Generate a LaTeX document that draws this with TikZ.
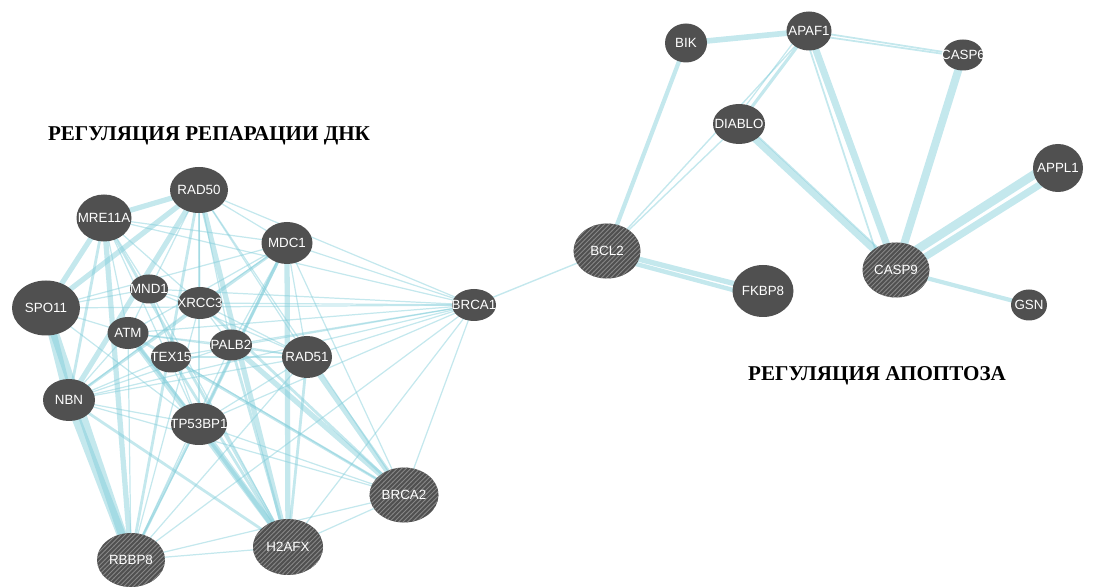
\documentclass[tikz,border=0pt]{standalone}
\usepackage{fontspec}
\setmainfont{Liberation Serif}
\newfontfamily\genefont{Liberation Sans}
\usetikzlibrary{shapes.geometric,patterns,backgrounds}

\definecolor{nodegris}{RGB}{80,80,80}
\definecolor{hachure}{RGB}{135,135,135}
\definecolor{lienbleu}{RGB}{125,203,216}

\pgfdeclarepatternformonly{hachures}{\pgfqpoint{-1pt}{-1pt}}{\pgfqpoint{4pt}{4pt}}{\pgfqpoint{2.6pt}{2.6pt}}{
  \pgfsetlinewidth{0.5pt}
  \pgfpathmoveto{\pgfqpoint{-0.1pt}{-0.1pt}}
  \pgfpathlineto{\pgfqpoint{2.7pt}{2.7pt}}
  \pgfusepath{stroke}}

\tikzset{
  gene/.style 2 args={ellipse, fill=nodegris, text=white, inner sep=0pt, outer sep=0pt,
    minimum width=#1*0.02cm, minimum height=#2*0.02cm, font=\genefont\fontsize{7.6}{8}\selectfont},
  hatch/.style={postaction={pattern=hachures, pattern color=hachure}},
  lien/.style={draw=lienbleu, draw opacity=0.45, line cap=round},
  titre/.style={font=\bfseries\fontsize{12}{14}\selectfont, text=black}
}
\newcommand{\lbl}[1]{\makebox[0pt]{#1}}

\begin{document}
\begin{tikzpicture}[x=0.02cm, y=-0.02cm]

%%%%%%%%%%%%%%%%%%%%%%
%%%	 Def epaisseurs  %%%
%%%%%%%%%%%%%%%%%%%%%%

\def \fin{0.7pt}
\def \moyen{1.6pt}
\def \epais{3pt}
\def \tresepais{5pt}

\useasboundingbox (0,0) rectangle (1099,587);

%%%%%%%%%%%%%%%%%%%%%%
%%%	  Noeuds ADN    %%%
%%%%%%%%%%%%%%%%%%%%%%

\node[gene={55}{47}] (MRE11A) at (104,218) {\lbl{MRE11A}};
\node[gene={58}{46}] (RAD50) at (199,190) {\lbl{RAD50}};
\node[gene={51}{42}] (MDC1) at (287,243) {\lbl{MDC1}};
\node[gene={68}{55}] (SPO11) at (46,308) {\lbl{SPO11}};
\node[gene={38}{29}] (MND1) at (149,289) {\lbl{MND1}};
\node[gene={44}{32}] (XRCC3) at (200,303) {\lbl{XRCC3}};
\node[gene={41}{32}] (ATM) at (128,333) {\lbl{ATM}};
\node[gene={40}{31}] (TEX15) at (171,357) {\lbl{TEX15}};
\node[gene={42}{31}] (PALB2) at (231,345) {\lbl{PALB2}};
\node[gene={50}{42}] (RAD51) at (307,357) {\lbl{RAD51}};
\node[gene={52}{42}] (NBN) at (69,400) {\lbl{NBN}};
\node[gene={56}{42}] (TP53BP1) at (199,424) {\lbl{TP53BP1}};
\node[gene={44}{32}] (BRCA1) at (474,305) {\lbl{BRCA1}};
\node[gene={69}{55}, hatch] (BRCA2) at (404,495) {\lbl{BRCA2}};
\node[gene={70}{56}, hatch] (H2AFX) at (288,547) {\lbl{H2AFX}};
\node[gene={68}{54}, hatch] (RBBP8) at (131,560) {\lbl{RBBP8}};

%%%%%%%%%%%%%%%%%%%%%%
%%%	 Noeuds apoptose %%%
%%%%%%%%%%%%%%%%%%%%%%

\node[gene={42}{39}] (BIK) at (686,43) {\lbl{BIK}};
\node[gene={45}{39}] (APAF1) at (809,31) {\lbl{APAF1}};
\node[gene={40}{31}] (CASP6) at (963,55) {\lbl{CASP6}};
\node[gene={52}{40}] (DIABLO) at (739,124) {\lbl{DIABLO}};
\node[gene={50}{48}] (APPL1) at (1058,168) {\lbl{APPL1}};
\node[gene={67}{55}, hatch] (BCL2) at (607,251) {\lbl{BCL2}};
\node[gene={61}{52}] (FKBP8) at (763,291) {\lbl{FKBP8}};
\node[gene={67}{55}, hatch] (CASP9) at (896,270) {\lbl{CASP9}};
\node[gene={36}{31}] (GSN) at (1029,305) {\lbl{GSN}};

%%%%%%%%%%%%%%%%%%%%%%
%%%	    Titres      %%%
%%%%%%%%%%%%%%%%%%%%%%

\node[titre] (titreADN) at (209,136) {РЕГУЛЯЦИЯ РЕПАРАЦИИ ДНК};
\node[titre] (titreApo) at (877,376) {РЕГУЛЯЦИЯ АПОПТОЗА};

%%%%%%%%%%%%%%%%%%%%%%
%%%	    Liens       %%%
%%%%%%%%%%%%%%%%%%%%%%

\begin{scope}[on background layer]

% liens tres epais du groupe ADN
\foreach \a/\b in {SPO11/NBN, SPO11/RBBP8, NBN/RBBP8}
  \draw[lien, line width=\tresepais] (\a.center) -- (\b.center);

% liens epais
\foreach \a/\b in {MRE11A/SPO11, MRE11A/RBBP8, MRE11A/RAD50, RAD50/NBN, RAD50/H2AFX,
    MDC1/H2AFX, TP53BP1/H2AFX, ATM/H2AFX, PALB2/BRCA2, RAD51/BRCA2, SPO11/RAD50}
  \draw[lien, line width=\epais] (\a.center) -- (\b.center);

% liens moyens
\foreach \a/\b in {MRE11A/NBN, RAD50/RBBP8, MDC1/TP53BP1, MDC1/RBBP8, ATM/TP53BP1,
    XRCC3/BRCA2, RAD51/H2AFX, ATM/BRCA2, MRE11A/H2AFX, RAD50/TP53BP1, PALB2/H2AFX,
    TEX15/H2AFX, NBN/H2AFX, MDC1/NBN}
  \draw[lien, line width=\moyen] (\a.center) -- (\b.center);

% liens fins vers BRCA1
\foreach \a in {MRE11A, RAD50, MDC1, XRCC3, ATM, PALB2, RAD51, TP53BP1, NBN, H2AFX,
    RBBP8, BRCA2, MND1, TEX15, SPO11}
  \draw[lien, line width=\fin] (\a.center) -- (BRCA1.center);

% autres liens fins
\foreach \a/\b in {MRE11A/MDC1, RAD50/MDC1, MRE11A/ATM, MRE11A/MND1, MRE11A/XRCC3,
    RAD50/XRCC3, RAD50/ATM, RAD50/PALB2, RAD50/RAD51, MDC1/ATM, MDC1/PALB2, MDC1/RAD51,
    SPO11/ATM, SPO11/MND1, MND1/RAD51, MND1/XRCC3, MND1/H2AFX, XRCC3/RAD51, XRCC3/PALB2,
    XRCC3/RBBP8, ATM/NBN, ATM/RBBP8, ATM/RAD51, ATM/PALB2, TEX15/RAD51, TEX15/BRCA2,
    PALB2/RAD51, PALB2/RBBP8, PALB2/NBN, RAD51/NBN, RAD51/RBBP8, RAD51/TP53BP1,
    NBN/TP53BP1, NBN/BRCA2, TP53BP1/RBBP8, TP53BP1/BRCA2, H2AFX/RBBP8, H2AFX/BRCA2,
    RBBP8/BRCA2, MRE11A/TP53BP1, MDC1/BRCA2, RAD50/BRCA2, SPO11/MDC1, NBN/XRCC3,
    MND1/TP53BP1, SPO11/TP53BP1, MDC1/XRCC3, TEX15/NBN}
  \draw[lien, line width=\fin] (\a.center) -- (\b.center);

% liens du groupe apoptose
\draw[lien, line width=3.2pt] (BIK.center) -- (APAF1.center);
\draw[lien, line width=2.4pt] (BIK.center) -- (BCL2.center);
\draw[lien, line width=4pt] (APAF1.center) -- (CASP9.center);
\draw[lien, line width=1pt] ([xshift=-3pt]APAF1.center) -- ([xshift=-8pt]CASP9.center);
\draw[lien, line width=4pt] (DIABLO.center) -- (CASP9.center);
\draw[lien, line width=1pt] ([yshift=3pt]DIABLO.center) -- ([yshift=3pt]CASP9.center);
\draw[lien, line width=4.5pt] (CASP6.center) -- (CASP9.center);
\draw[lien, line width=4pt] ([yshift=-3pt]CASP9.center) -- ([yshift=-3pt]APPL1.center);
\draw[lien, line width=5pt] ([yshift=4pt]CASP9.center) -- ([yshift=5pt]APPL1.center);
\draw[lien, line width=2.4pt] (CASP9.center) -- (GSN.center);
\draw[lien, line width=3pt] (BCL2.center) -- (FKBP8.center);
\draw[lien, line width=2.5pt] ([yshift=-3pt]BCL2.center) -- ([yshift=-4pt]FKBP8.center);
\draw[lien, line width=1pt] (APAF1.center) -- (CASP6.center);
\draw[lien, line width=1pt] ([yshift=-2pt]APAF1.center) -- ([yshift=-1pt]CASP6.center);
\draw[lien, line width=1.8pt] (APAF1.center) -- (DIABLO.center);
\draw[lien, line width=0.7pt] ([xshift=-4pt]APAF1.center) -- ([xshift=-4pt]DIABLO.center);
\draw[lien, line width=0.8pt] (APAF1.center) -- (BCL2.center);
\draw[lien, line width=0.8pt] (DIABLO.center) -- (BCL2.center);
\draw[lien, line width=0.8pt] (BCL2.center) -- (BRCA1.center);

\end{scope}

%%%%%%%%%%%%%%%%%%%%%%%%%%%%%%%%%%%%%%%%%

\end{tikzpicture}
\end{document}
